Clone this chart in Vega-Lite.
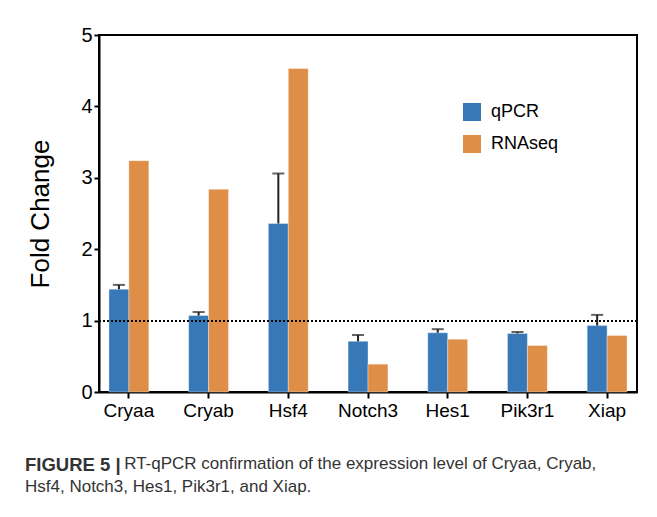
{
  "$schema": "https://vega.github.io/schema/vega-lite/v6.json",
  "width": 538,
  "height": 357,
  "autosize": {"type": "none"},
  "padding": {"left": 99, "top": 35, "right": 20, "bottom": 125},
  "background": "white",
  "config": {
    "view": {"stroke": "black", "strokeWidth": 2},
    "font": "Liberation Sans"
  },
  "title": {
    "text": "FIGURE 5 |",
    "subtitle": ["\u200b\u00a0\u00a0\u00a0\u00a0\u00a0\u00a0\u00a0\u00a0\u00a0\u00a0\u00a0\u00a0\u00a0\u00a0\u00a0\u00a0\u00a0\u00a0\u00a0\u00a0\u00a0RT-qPCR confirmation of the expression level of Cryaa, Cryab,", "Hsf4, Notch3, Hes1, Pik3r1, and Xiap."],
    "orient": "bottom",
    "anchor": "start",
    "frame": "group",
    "dx": -74,
    "offset": 36,
    "font": "Liberation Sans",
    "fontSize": 18.5,
    "fontWeight": "bold",
    "color": "#333333",
    "subtitleFont": "Liberation Sans",
    "subtitleFontSize": 17,
    "subtitleFontWeight": "normal",
    "subtitleColor": "#333333",
    "subtitleLineHeight": 23,
    "subtitlePadding": -19
  },
  "data": {
    "values": [
      {"gene": "Cryaa", "method": "qPCR", "value": 1.44, "upper": 1.50},
      {"gene": "Cryaa", "method": "RNAseq", "value": 3.24},
      {"gene": "Cryab", "method": "qPCR", "value": 1.07, "upper": 1.12},
      {"gene": "Cryab", "method": "RNAseq", "value": 2.84},
      {"gene": "Hsf4", "method": "qPCR", "value": 2.36, "upper": 3.06},
      {"gene": "Hsf4", "method": "RNAseq", "value": 4.53},
      {"gene": "Notch3", "method": "qPCR", "value": 0.71, "upper": 0.80},
      {"gene": "Notch3", "method": "RNAseq", "value": 0.39},
      {"gene": "Hes1", "method": "qPCR", "value": 0.83, "upper": 0.88},
      {"gene": "Hes1", "method": "RNAseq", "value": 0.74},
      {"gene": "Pik3r1", "method": "qPCR", "value": 0.82, "upper": 0.84},
      {"gene": "Pik3r1", "method": "RNAseq", "value": 0.65},
      {"gene": "Xiap", "method": "qPCR", "value": 0.93, "upper": 1.08},
      {"gene": "Xiap", "method": "RNAseq", "value": 0.79}
    ]
  },
  "encoding": {
    "x": {
      "field": "gene",
      "type": "nominal",
      "sort": ["Cryaa", "Cryab", "Hsf4", "Notch3", "Hes1", "Pik3r1", "Xiap"],
      "scale": {"paddingInner": 0.5, "paddingOuter": 0.125},
      "axis": {
        "title": null,
        "labelAngle": 0,
        "labelFontSize": 19,
        "labelColor": "black",
        "labelPadding": 3,
        "domainColor": "black",
        "domainWidth": 2,
        "tickColor": "black",
        "tickWidth": 2,
        "tickSize": 6
      }
    },
    "xOffset": {
      "field": "method",
      "type": "nominal",
      "scale": {"domain": ["qPCR", "RNAseq"], "paddingInner": 0, "paddingOuter": 0}
    }
  },
  "layer": [
    {
      "mark": {"type": "bar", "stroke": "#ffffff", "strokeOpacity": 0.35, "strokeWidth": 1},
      "encoding": {
        "y": {
          "field": "value",
          "type": "quantitative",
          "scale": {"domain": [0, 5], "nice": false},
          "axis": {
            "title": "Fold Change",
            "titleFontSize": 26,
            "titleFontWeight": "normal",
            "titleColor": "black",
            "titlePadding": 27,
            "values": [0, 1, 2, 3, 4, 5],
            "format": "d",
            "grid": false,
            "labelFontSize": 20,
            "labelColor": "black",
            "labelPadding": 2,
            "domainColor": "black",
            "domainWidth": 2,
            "tickColor": "black",
            "tickWidth": 2,
            "tickSize": 5
          }
        },
        "color": {
          "field": "method",
          "type": "nominal",
          "scale": {"domain": ["qPCR", "RNAseq"], "range": ["#3778b9", "#df8e47"]},
          "legend": {
            "title": null,
            "orient": "none",
            "legendX": 364,
            "legendY": 68,
            "symbolType": "square",
            "symbolSize": 324,
            "symbolStrokeWidth": 0,
            "labelFontSize": 18,
            "labelColor": "black",
            "labelOffset": 10,
            "rowPadding": 14
          }
        }
      }
    },
    {
      "mark": {"type": "rule", "strokeDash": [2, 2], "color": "black", "strokeWidth": 1.3},
      "encoding": {"y": {"datum": 1}, "x": null, "xOffset": null}
    },
    {
      "transform": [{"filter": "datum.method === 'qPCR'"}],
      "mark": {"type": "rule", "color": "#222222", "strokeWidth": 2},
      "encoding": {
        "y": {"field": "value", "type": "quantitative"},
        "y2": {"field": "upper"}
      }
    },
    {
      "transform": [{"filter": "datum.method === 'qPCR'"}],
      "mark": {"type": "tick", "color": "#222222", "thickness": 2, "size": 12},
      "encoding": {
        "y": {"field": "upper", "type": "quantitative"}
      }
    }
  ]
}
